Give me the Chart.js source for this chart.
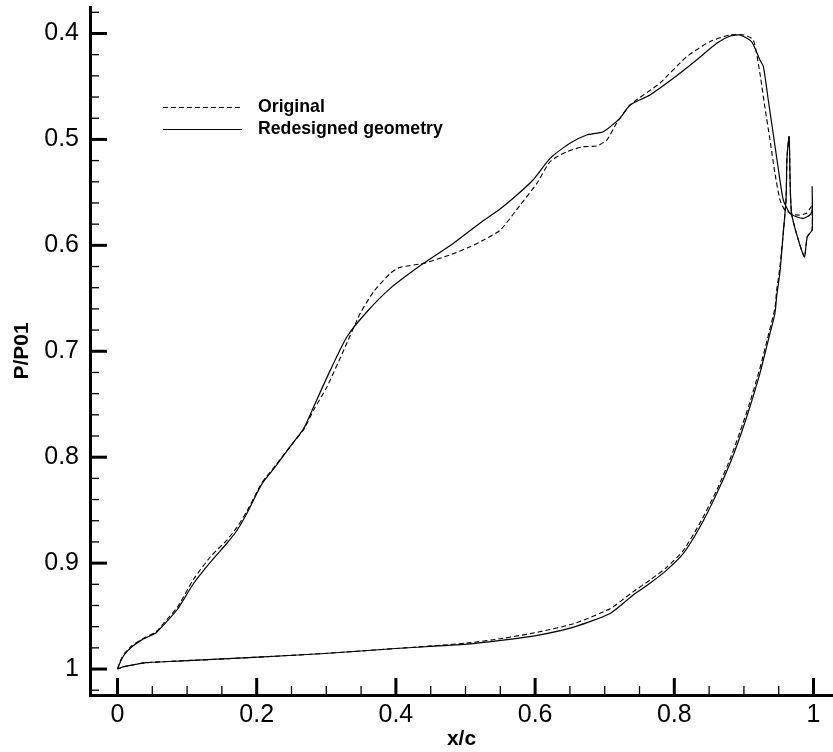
<!DOCTYPE html>
<html><head><meta charset="utf-8">
<script src="https://cdn.jsdelivr.net/npm/chart.js@4/dist/chart.umd.min.js"></script>
<style>html,body{margin:0;padding:0;background:#fff}#wrap{width:833px;height:752px}</style>
</head><body><div id="wrap"><canvas id="c" width="833" height="752"></canvas></div>
<script>
// ---- data (loop: leading edge -> suction side -> trailing edge -> pressure side -> leading edge)
const redesignedX = [0,0.005,0.0104,0.0207,0.036,0.055,0.066,0.0857,0.1095,0.1335,0.1575,0.1718,0.186,0.2077,0.2268,0.248,0.2675,0.2818,0.3058,0.3297,0.3584,0.3919,0.4397,0.4828,0.521,0.55,0.5738,0.597,0.6216,0.65,0.674,0.698,0.722,0.7365,0.765,0.7986,0.832,0.861,0.88,0.8944,0.911,0.923,0.928,0.935,0.942,0.949,0.9565,0.966,0.9757,0.985,0.9948,0.998,0.998,0.998,0.991,0.9867,0.9685,0.965,0.962,0.9605,0.9565,0.9518,0.947,0.9446,0.935,0.923,0.9087,0.8944,0.88,0.861,0.837,0.813,0.789,0.765,0.741,0.7077,0.6565,0.605,0.554,0.5025,0.4,0.2976,0.195,0.0925,0.041,0.0207,0.008,0];
const redesignedY = [1.0,0.992,0.986,0.979,0.972,0.966,0.9585,0.944,0.919,0.899,0.881,0.869,0.853,0.825,0.809,0.79,0.773,0.7524,0.7178,0.6863,0.6627,0.6406,0.617,0.598,0.579,0.5655,0.5525,0.5383,0.5179,0.5037,0.4958,0.4927,0.48,0.4675,0.458,0.4423,0.425,0.4093,0.4024,0.4014,0.4077,0.425,0.4313,0.4628,0.4942,0.5258,0.557,0.5698,0.573,0.5745,0.5714,0.5667,0.5447,0.5855,0.5919,0.6108,0.5698,0.4975,0.516,0.557,0.5887,0.625,0.6485,0.6642,0.6894,0.7209,0.7524,0.7807,0.8059,0.8342,0.8657,0.8909,0.9066,0.919,0.93,0.9475,0.9602,0.968,0.9727,0.9765,0.9806,0.9853,0.989,0.9923,0.994,0.9963,0.998,1.0];
const originalX = [0,0.005,0.0104,0.0207,0.036,0.055,0.066,0.0857,0.1095,0.1335,0.1575,0.1718,0.186,0.2077,0.2268,0.248,0.2675,0.2818,0.301,0.325,0.3488,0.368,0.392,0.406,0.4397,0.478,0.5067,0.526,0.55,0.5785,0.6025,0.6216,0.6456,0.669,0.6886,0.703,0.717,0.7365,0.779,0.8178,0.851,0.88,0.9,0.9135,0.923,0.93,0.9375,0.9446,0.9518,0.9589,0.9757,0.99,0.997,0.998,0.991,0.9867,0.9685,0.965,0.962,0.9605,0.9565,0.9518,0.947,0.9446,0.935,0.923,0.9087,0.8944,0.88,0.861,0.837,0.813,0.789,0.765,0.741,0.7077,0.6565,0.605,0.554,0.5025,0.4,0.2976,0.195,0.0925,0.041,0.0207,0.008,0];
const originalY = [1.0,0.991,0.985,0.978,0.9715,0.965,0.957,0.942,0.915,0.894,0.878,0.866,0.851,0.824,0.808,0.79,0.774,0.7555,0.7335,0.699,0.6642,0.6438,0.6264,0.6208,0.617,0.609,0.6013,0.595,0.5856,0.562,0.5415,0.521,0.5116,0.5069,0.5062,0.5006,0.4848,0.4675,0.447,0.4219,0.4077,0.4014,0.4014,0.406,0.4376,0.469,0.5006,0.532,0.557,0.5667,0.5714,0.5698,0.5636,0.5855,0.5919,0.6108,0.5698,0.4975,0.516,0.557,0.5887,0.62,0.643,0.659,0.685,0.716,0.748,0.776,0.802,0.831,0.862,0.888,0.904,0.916,0.927,0.943,0.957,0.965,0.971,0.9755,0.9806,0.9853,0.989,0.9923,0.994,0.9963,0.998,1.0];
const seriesNames = ['Original','Redesigned geometry'];
const xTickValues = [0,0.2,0.4,0.6,0.8,1];
const xTickLabels = ['0','0.2','0.4','0.6','0.8','1'];
const xMinorValues = [0.05,0.1,0.15,0.25,0.3,0.35,0.45,0.5,0.55,0.65,0.7,0.75,0.85,0.9,0.95];
const yTickValues = [0.4,0.5,0.6,0.7,0.8,0.9,1];
const yTickLabels = ['0.4','0.5','0.6','0.7','0.8','0.9','1'];
const yMinorValues = [0.38,0.42,0.44,0.46,0.48,0.52,0.54,0.56,0.58,0.62,0.64,0.66,0.68,0.72,0.74,0.76,0.78,0.82,0.84,0.86,0.88,0.92,0.94,0.96,0.98,1.02];
const xTitle = 'x/c';
const yTitle = 'P/P01';

const toPts = (xs, ys) => xs.map((v, i) => ({x: v, y: ys[i]}));
const FONT = '"Liberation Sans", Arial, sans-serif';

const innerTicks = {
  id: 'innerTicks',
  afterDraw(chart) {
    const {ctx, chartArea: a, scales: {x, y}} = chart;
    ctx.save();
    ctx.strokeStyle = '#000';
    const seg = (x0, y0, x1, y1, w) => { ctx.lineWidth = w; ctx.beginPath(); ctx.moveTo(x0, y0); ctx.lineTo(x1, y1); ctx.stroke(); };
    xTickValues.forEach(v => { const p = x.getPixelForValue(v); seg(p, a.bottom, p, a.bottom - 17, 3); });
    xMinorValues.forEach(v => { const p = x.getPixelForValue(v); seg(p, a.bottom, p, a.bottom - 9, 1.3); });
    yTickValues.forEach(v => { const p = y.getPixelForValue(v); seg(a.left, p, a.left + 17, p, 3); });
    yMinorValues.forEach(v => { const p = y.getPixelForValue(v); seg(a.left, p, a.left + 9, p, 1.3); });
    // legend
    const ds = chart.data.datasets;
    const rows = [{d: ds[1], yy: 107}, {d: ds[0], yy: 129}];
    ctx.font = 'bold 17.7px ' + FONT;
    ctx.fillStyle = '#000';
    ctx.textBaseline = 'middle';
    rows.forEach(r => {
      ctx.setLineDash(r.d.borderDash || []);
      ctx.lineWidth = 1;
      ctx.beginPath(); ctx.moveTo(163, r.yy + 0.5); ctx.lineTo(242, r.yy + 0.5); ctx.stroke();
      ctx.setLineDash([]);
      ctx.fillText(r.d.label, 258, r.yy);
    });
    ctx.restore();
  }
};

new Chart(document.getElementById('c'), {
  type: 'scatter',
  data: {
    datasets: [
      {label: seriesNames[1], data: toPts(redesignedX, redesignedY), showLine: true, borderColor: '#000', borderWidth: 1.2, pointRadius: 0, tension: 0.2, fill: false},
      {label: seriesNames[0], data: toPts(originalX, originalY), showLine: true, borderColor: '#000', borderWidth: 1.1, borderDash: [5, 3], pointRadius: 0, tension: 0.2, fill: false}
    ]
  },
  options: {
    responsive: false,
    animation: false,
    devicePixelRatio: 1,
    layout: {padding: {top: 7, right: 0, left: 0, bottom: 0}},
    plugins: {legend: {display: false}, tooltip: {enabled: false}},
    scales: {
      x: {
        type: 'linear', min: -0.0395, max: 1.028,
        afterBuildTicks: s => { s.ticks = xTickValues.map(v => ({value: v})); },
        afterFit: s => { s.height = 57; s.paddingLeft = 0; s.paddingRight = 0; },
        ticks: {color: '#000', font: {family: FONT, size: 25}, padding: 5, maxRotation: 0, autoSkip: false,
          callback: (v) => xTickLabels[xTickValues.indexOf(v)]},
        grid: {display: true, drawOnChartArea: false, drawTicks: false},
        border: {display: true, color: '#000', width: 3},
        title: {display: true, text: xTitle, color: '#000', font: {family: FONT, size: 21, weight: 'bold'}, padding: {top: 0, bottom: 0}}
      },
      y: {
        type: 'linear', reverse: true, min: 0.375, max: 1.0245,
        afterBuildTicks: s => { s.ticks = yTickValues.map(v => ({value: v})); },
        afterFit: s => { s.width = 90; s.paddingTop = 0; s.paddingBottom = 0; },
        ticks: {color: '#000', font: {family: FONT, size: 25}, padding: 11, autoSkip: false,
          callback: (v) => yTickLabels[yTickValues.indexOf(v)]},
        grid: {display: true, drawOnChartArea: false, drawTicks: false},
        border: {display: true, color: '#000', width: 3},
        title: {display: true, text: yTitle, color: '#000', font: {family: FONT, size: 21, weight: 'bold'}, padding: {top: 10, bottom: 0}}
      }
    }
  },
  plugins: [innerTicks]
});
</script>
</body></html>
